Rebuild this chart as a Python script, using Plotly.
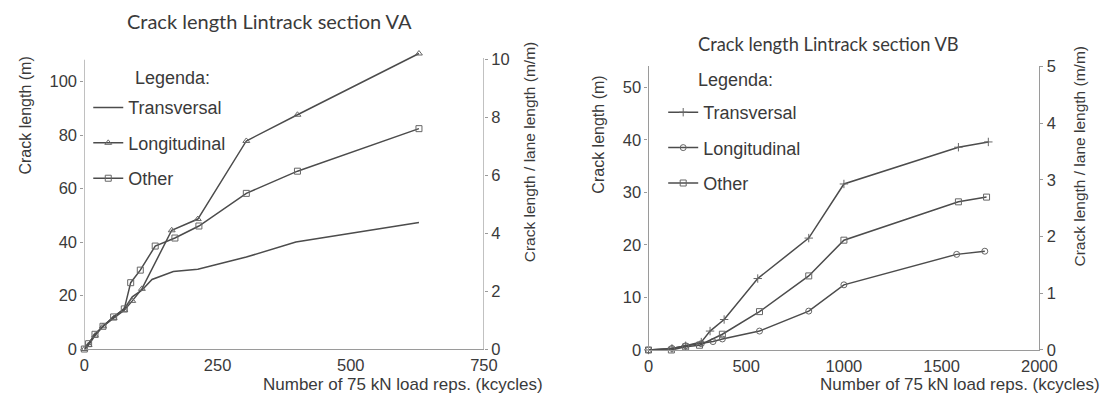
import plotly.graph_objects as go

# ---------------- data ----------------
# Section VA (x in kcycles, y in m)
va_trans_x = [0, 8, 20, 35, 55, 75, 90, 108, 127, 167, 213, 304, 397, 628]
va_trans_y = [0, 2, 5.5, 8.5, 12, 15, 19.5, 22, 26, 29, 29.8, 34.4, 40, 47.3]
va_long_x = [0, 8, 20, 35, 55, 75, 90, 108, 164, 213, 304, 400, 628]
va_long_y = [0, 1.5, 5, 8.5, 11.5, 14.5, 18, 22.5, 44.4, 48.6, 77.8, 87.6, 110.5]
va_other_x = [0, 8, 20, 35, 55, 75, 87, 105, 133, 170, 215, 304, 400, 628]
va_other_y = [0, 2, 5.5, 8.5, 12, 15, 24.8, 29.5, 38.5, 41.5, 46, 58.2, 66.5, 82.4]

# Section VB
vb_trans_x = [0, 120, 190, 270, 315, 387, 559, 820, 1000, 1586, 1739]
vb_trans_y = [0, 0.3, 0.8, 1.5, 3.6, 5.8, 13.6, 21.3, 31.6, 38.6, 39.6]
vb_long_x = [0, 120, 190, 270, 330, 378, 568, 820, 1000, 1577, 1721]
vb_long_y = [0, 0.3, 0.8, 1.2, 1.6, 2.1, 3.6, 7.4, 12.4, 18.2, 18.8]
vb_other_x = [0, 117, 190, 261, 378, 568, 820, 1000, 1586, 1730]
vb_other_y = [0, 0, 0.6, 0.9, 3.0, 7.3, 14.1, 20.9, 28.2, 29.1]

va_xticks = [0, 250, 500, 750]
va_yticks = [0, 20, 40, 60, 80, 100]
va_y2ticks = [0, 2, 4, 6, 8, 10]
vb_xticks = [0, 500, 1000, 1500, 2000]
vb_yticks = [0, 10, 20, 30, 40, 50]
vb_y2ticks = [0, 1, 2, 3, 4, 5]

W, H = 1120, 401
LINE = "#4c4c4c"
MK = "#666666"
AXC = "#9a9a9a"
TXT = "#3a3a3a"
FONT = "Liberation Sans"


def px(x):
    return x / W


def py(y):
    return 1 - y / H


fig = go.Figure()


def add(x, y, name, symbol, xa, ya, legend, size=7):
    fig.add_trace(go.Scatter(
        x=x, y=y, name=name, mode="lines+markers" if symbol else "lines",
        line=dict(color=LINE, width=1.5),
        marker=dict(symbol=symbol or "circle", size=size, color=MK,
                    line=dict(color=MK, width=1)),
        xaxis=xa, yaxis=ya, legend=legend, legendgroup=name + legend,
        cliponaxis=False,
    ))


add(va_trans_x, va_trans_y, "Transversal", None, "x", "y", "legend")
add(va_long_x, va_long_y, "Longitudinal", "triangle-up-open", "x", "y", "legend", 6)
add(va_other_x, va_other_y, "Other", "square-open", "x", "y", "legend", 6)

add(vb_trans_x, vb_trans_y, "Transversal", "cross-thin-open", "x2", "y3", "legend2", 6)
add(vb_long_x, vb_long_y, "Longitudinal", "circle-open", "x2", "y3", "legend2", 6)
add(vb_other_x, vb_other_y, "Other", "square-open", "x2", "y3", "legend2", 6)

# invisible helpers so that the right-hand axes are drawn
for xa, ya in (("x", "y2"), ("x2", "y4")):
    fig.add_trace(go.Scatter(x=[0], y=[0], xaxis=xa, yaxis=ya, mode="markers",
                             marker=dict(opacity=0), showlegend=False,
                             hoverinfo="skip"))

tickfont = dict(family=FONT, size=16.5, color=TXT)
common_x = dict(showline=True, linecolor=AXC, linewidth=1.2, showgrid=False,
                zeroline=False, ticks="", tickfont=tickfont, ticklabelstandoff=1)
common_y = dict(showline=True, linecolor=AXC, linewidth=1.2, showgrid=False,
                zeroline=False, ticks="outside", ticklen=3, tickcolor=AXC,
                tickfont=tickfont)

# VA: 0 at 356px, 2.8 px per metre; axis drawn up to 108
VA_TOP = 113.0
va_xd = [px(81), px(489)]
va_yd = [1 - 356 / H, 1 - (356 - VA_TOP * 2.8) / H]
vb_xd = [px(657), px(1056)]
vb_yd = [1 - 357 / H, 1 - 60 / H]

fig.update_layout(
    width=W, height=H, margin=dict(l=0, r=0, t=0, b=0),
    paper_bgcolor="white", plot_bgcolor="rgba(0,0,0,0)",
    font=dict(family=FONT, color=TXT),
    xaxis=dict(common_x, domain=va_xd, range=[0, 750], tickvals=va_xticks, anchor="y"),
    yaxis=dict(common_y, showline=False, domain=va_yd, range=[0, VA_TOP],
               tickvals=va_yticks, anchor="x"),
    yaxis2=dict(common_y, showline=False, overlaying="y", side="right",
                range=[0, VA_TOP * 2.8 / 30.3], tickvals=va_y2ticks, anchor="x"),
    xaxis2=dict(common_x, domain=vb_xd, range=[0, 2000], tickvals=vb_xticks, anchor="y3"),
    yaxis3=dict(common_y, domain=vb_yd, range=[0, 54.0], tickvals=vb_yticks, anchor="x2"),
    yaxis4=dict(common_y, overlaying="y3", side="right", range=[0, 5.0],
                tickvals=vb_y2ticks, anchor="x2"),
    legend=dict(x=px(85), y=py(84), xanchor="left", yanchor="top",
                bgcolor="rgba(0,0,0,0)", font=dict(family=FONT, size=18, color=TXT),
                tracegroupgap=9, itemwidth=30),
    legend2=dict(x=px(672), y=py(89), xanchor="left", yanchor="top",
                 bgcolor="rgba(0,0,0,0)", font=dict(family=FONT, size=18, color=TXT),
                 tracegroupgap=9, itemwidth=30),
    shapes=[
        dict(type="line", xref="x", yref="y", x0=0, x1=0, y0=0, y1=108.2,
             line=dict(color=AXC, width=1.2)),
        dict(type="line", xref="x", yref="y", x0=750, x1=750, y0=0, y1=108.8,
             line=dict(color=AXC, width=1.2)),
    ],
)

ann = []
ann.append(dict(text="Crack length Lintrack section VA", x=px(270), y=py(13),
                font=dict(family="Lato", size=20, color=TXT)))
ann.append(dict(text="Crack length Lintrack section VB", x=px(841), y=py(37),
                font=dict(family="Lato", size=18.3, color=TXT)))
ann.append(dict(text="Legenda:", x=px(131), y=py(72), xanchor="left",
                font=dict(family=FONT, size=18, color=TXT)))
ann.append(dict(text="Legenda:", x=px(705), y=py(74), xanchor="left",
                font=dict(family=FONT, size=18, color=TXT)))
ann.append(dict(text="Crack length (m)", x=px(21), y=py(112), textangle=-90,
                font=dict(family=FONT, size=16, color=TXT)))
ann.append(dict(text="Crack length / lane length (m/m)", x=px(535), y=py(150), textangle=-90,
                font=dict(family=FONT, size=15.5, color=TXT)))
ann.append(dict(text="Number of 75 kN load reps. (kcycles)", x=px(550), y=py(393),
                xanchor="right", font=dict(family=FONT, size=17, color=TXT),
                borderpad=0))
ann.append(dict(text="Crack length (m)", x=px(606), y=py(132), textangle=-90,
                font=dict(family=FONT, size=16, color=TXT)))
ann.append(dict(text="Crack length / lane length (m/m)", x=px(1097), y=py(154), textangle=-90,
                font=dict(family=FONT, size=15.5, color=TXT)))
ann.append(dict(text="Number of 75 kN load reps. (kcycles)", x=px(1119), y=py(393),
                xanchor="right", font=dict(family=FONT, size=17, color=TXT),
                borderpad=0))
for a in ann:
    a.update(xref="paper", yref="paper", showarrow=False)
    a.setdefault("xanchor", "center")
    a.setdefault("yanchor", "middle")
fig.update_layout(annotations=ann)

fig.write_html("out.html")
